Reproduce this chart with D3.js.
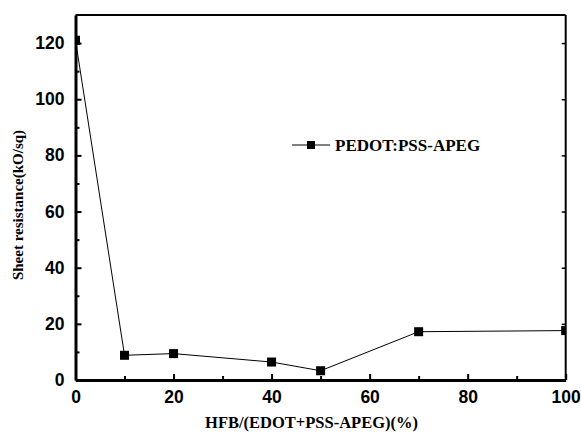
<!DOCTYPE html>
<html><head><meta charset="utf-8">
<script src="https://cdn.jsdelivr.net/npm/d3@7"></script>
<style>body{margin:0;background:#fff}</style>
</head><body>
<svg id="c" width="581" height="434"></svg>
<script>
const xValues = [0, 10, 20, 40, 50, 70, 100];
const yValues = [121, 8.8, 9.4, 6.4, 3.3, 17.2, 17.6];
const xTicks = [0, 20, 40, 60, 80, 100];
const yTicks = [0, 20, 40, 60, 80, 100, 120];
const seriesName = "PEDOT:PSS-APEG";
const xTitle = "HFB/(EDOT+PSS-APEG)(%)";
const yTitle = "Sheet resistance(kO/sq)";

const svg = d3.select("#c");
const L = 75.5, R = 565.7, T = 15, B = 380;
const x = d3.scaleLinear().domain([0, 100]).range([L, R]);
const y = d3.scaleLinear().domain([0, 130]).range([B, T]);

svg.append("defs").append("clipPath").attr("id", "pa")
  .append("rect").attr("x", L).attr("y", T).attr("width", R - L).attr("height", B - T);

// frame
svg.append("line").attr("x1", L).attr("x2", R).attr("y1", T).attr("y2", T).attr("stroke", "#000").attr("stroke-width", 2);
svg.append("line").attr("x1", R).attr("x2", R).attr("y1", T).attr("y2", B).attr("stroke", "#000").attr("stroke-width", 2);

// line + markers
const pts = xValues.map((v, i) => [v, yValues[i]]);
const plot = svg.append("g").attr("clip-path", "url(#pa)");
plot.append("path").datum(pts)
  .attr("d", d3.line().x(d => x(d[0])).y(d => y(d[1])))
  .attr("fill", "none").attr("stroke", "#000").attr("stroke-width", 1);
plot.selectAll("rect.m").data(pts).enter().append("rect").attr("class", "m")
  .attr("x", d => x(d[0]) - 4.5).attr("y", d => y(d[1]) - 4.5)
  .attr("width", 9).attr("height", 9).attr("fill", "#000");

const tickFont = "'Liberation Sans', Arial, sans-serif";
// bottom axis
const gx = svg.append("g").attr("transform", `translate(0,${B})`)
  .call(d3.axisBottom(x).tickValues(xTicks).tickSizeInner(-6).tickSizeOuter(0).tickPadding(11));
gx.select(".domain").attr("stroke-width", 3);
gx.selectAll(".tick line").attr("stroke-width", 2);
gx.selectAll("text").attr("font-family", tickFont).attr("font-weight", "bold").attr("font-size", 17.5).attr("fill", "#000");
const gxm = svg.append("g").attr("transform", `translate(0,${B})`)
  .call(d3.axisBottom(x).tickValues(d3.range(10, 100, 20)).tickSizeInner(-4).tickSizeOuter(0).tickFormat(""));
gxm.select(".domain").remove();
gxm.selectAll(".tick line").attr("stroke-width", 2);

// left axis
const gy = svg.append("g").attr("transform", `translate(${L},0)`)
  .call(d3.axisLeft(y).tickValues(yTicks).tickSizeInner(-6).tickSizeOuter(0).tickPadding(11));
gy.select(".domain").attr("stroke-width", 3);
gy.selectAll(".tick line").attr("stroke-width", 2);
gy.selectAll("text").attr("font-family", tickFont).attr("font-weight", "bold").attr("font-size", 17.5).attr("fill", "#000");
const gym = svg.append("g").attr("transform", `translate(${L},0)`)
  .call(d3.axisLeft(y).tickValues(d3.range(10, 130, 20)).tickSizeInner(-4).tickSizeOuter(0).tickFormat(""));
gym.select(".domain").remove();
gym.selectAll(".tick line").attr("stroke-width", 2);

// right axis ticks (inward)
const gr = svg.append("g").attr("transform", `translate(${R},0)`)
  .call(d3.axisRight(y).tickValues(yTicks).tickSizeInner(-4).tickSizeOuter(0).tickFormat(""));
gr.select(".domain").remove();
gr.selectAll(".tick line").attr("stroke-width", 1.5);

// legend
const ly = 145;
svg.append("line").attr("x1", 292).attr("x2", 330).attr("y1", ly).attr("y2", ly).attr("stroke", "#000").attr("stroke-width", 1);
svg.append("rect").attr("x", 307).attr("y", ly - 4).attr("width", 8).attr("height", 8).attr("fill", "#000");
svg.append("text").attr("x", 335).attr("y", 151).text(seriesName)
  .attr("font-family", "'Liberation Serif', 'Times New Roman', serif").attr("font-weight", "bold").attr("font-size", 17);

// titles
svg.append("text").attr("x", 311.5).attr("y", 428).attr("text-anchor", "middle").text(xTitle)
  .attr("font-family", "'Liberation Serif', 'Times New Roman', serif").attr("font-weight", "bold").attr("font-size", 16.5);
svg.append("text").attr("transform", `translate(23,205) rotate(-90)`).attr("text-anchor", "middle").text(yTitle)
  .attr("font-family", "'Liberation Serif', 'Times New Roman', serif").attr("font-weight", "bold").attr("font-size", 15);
</script>
</body></html>
